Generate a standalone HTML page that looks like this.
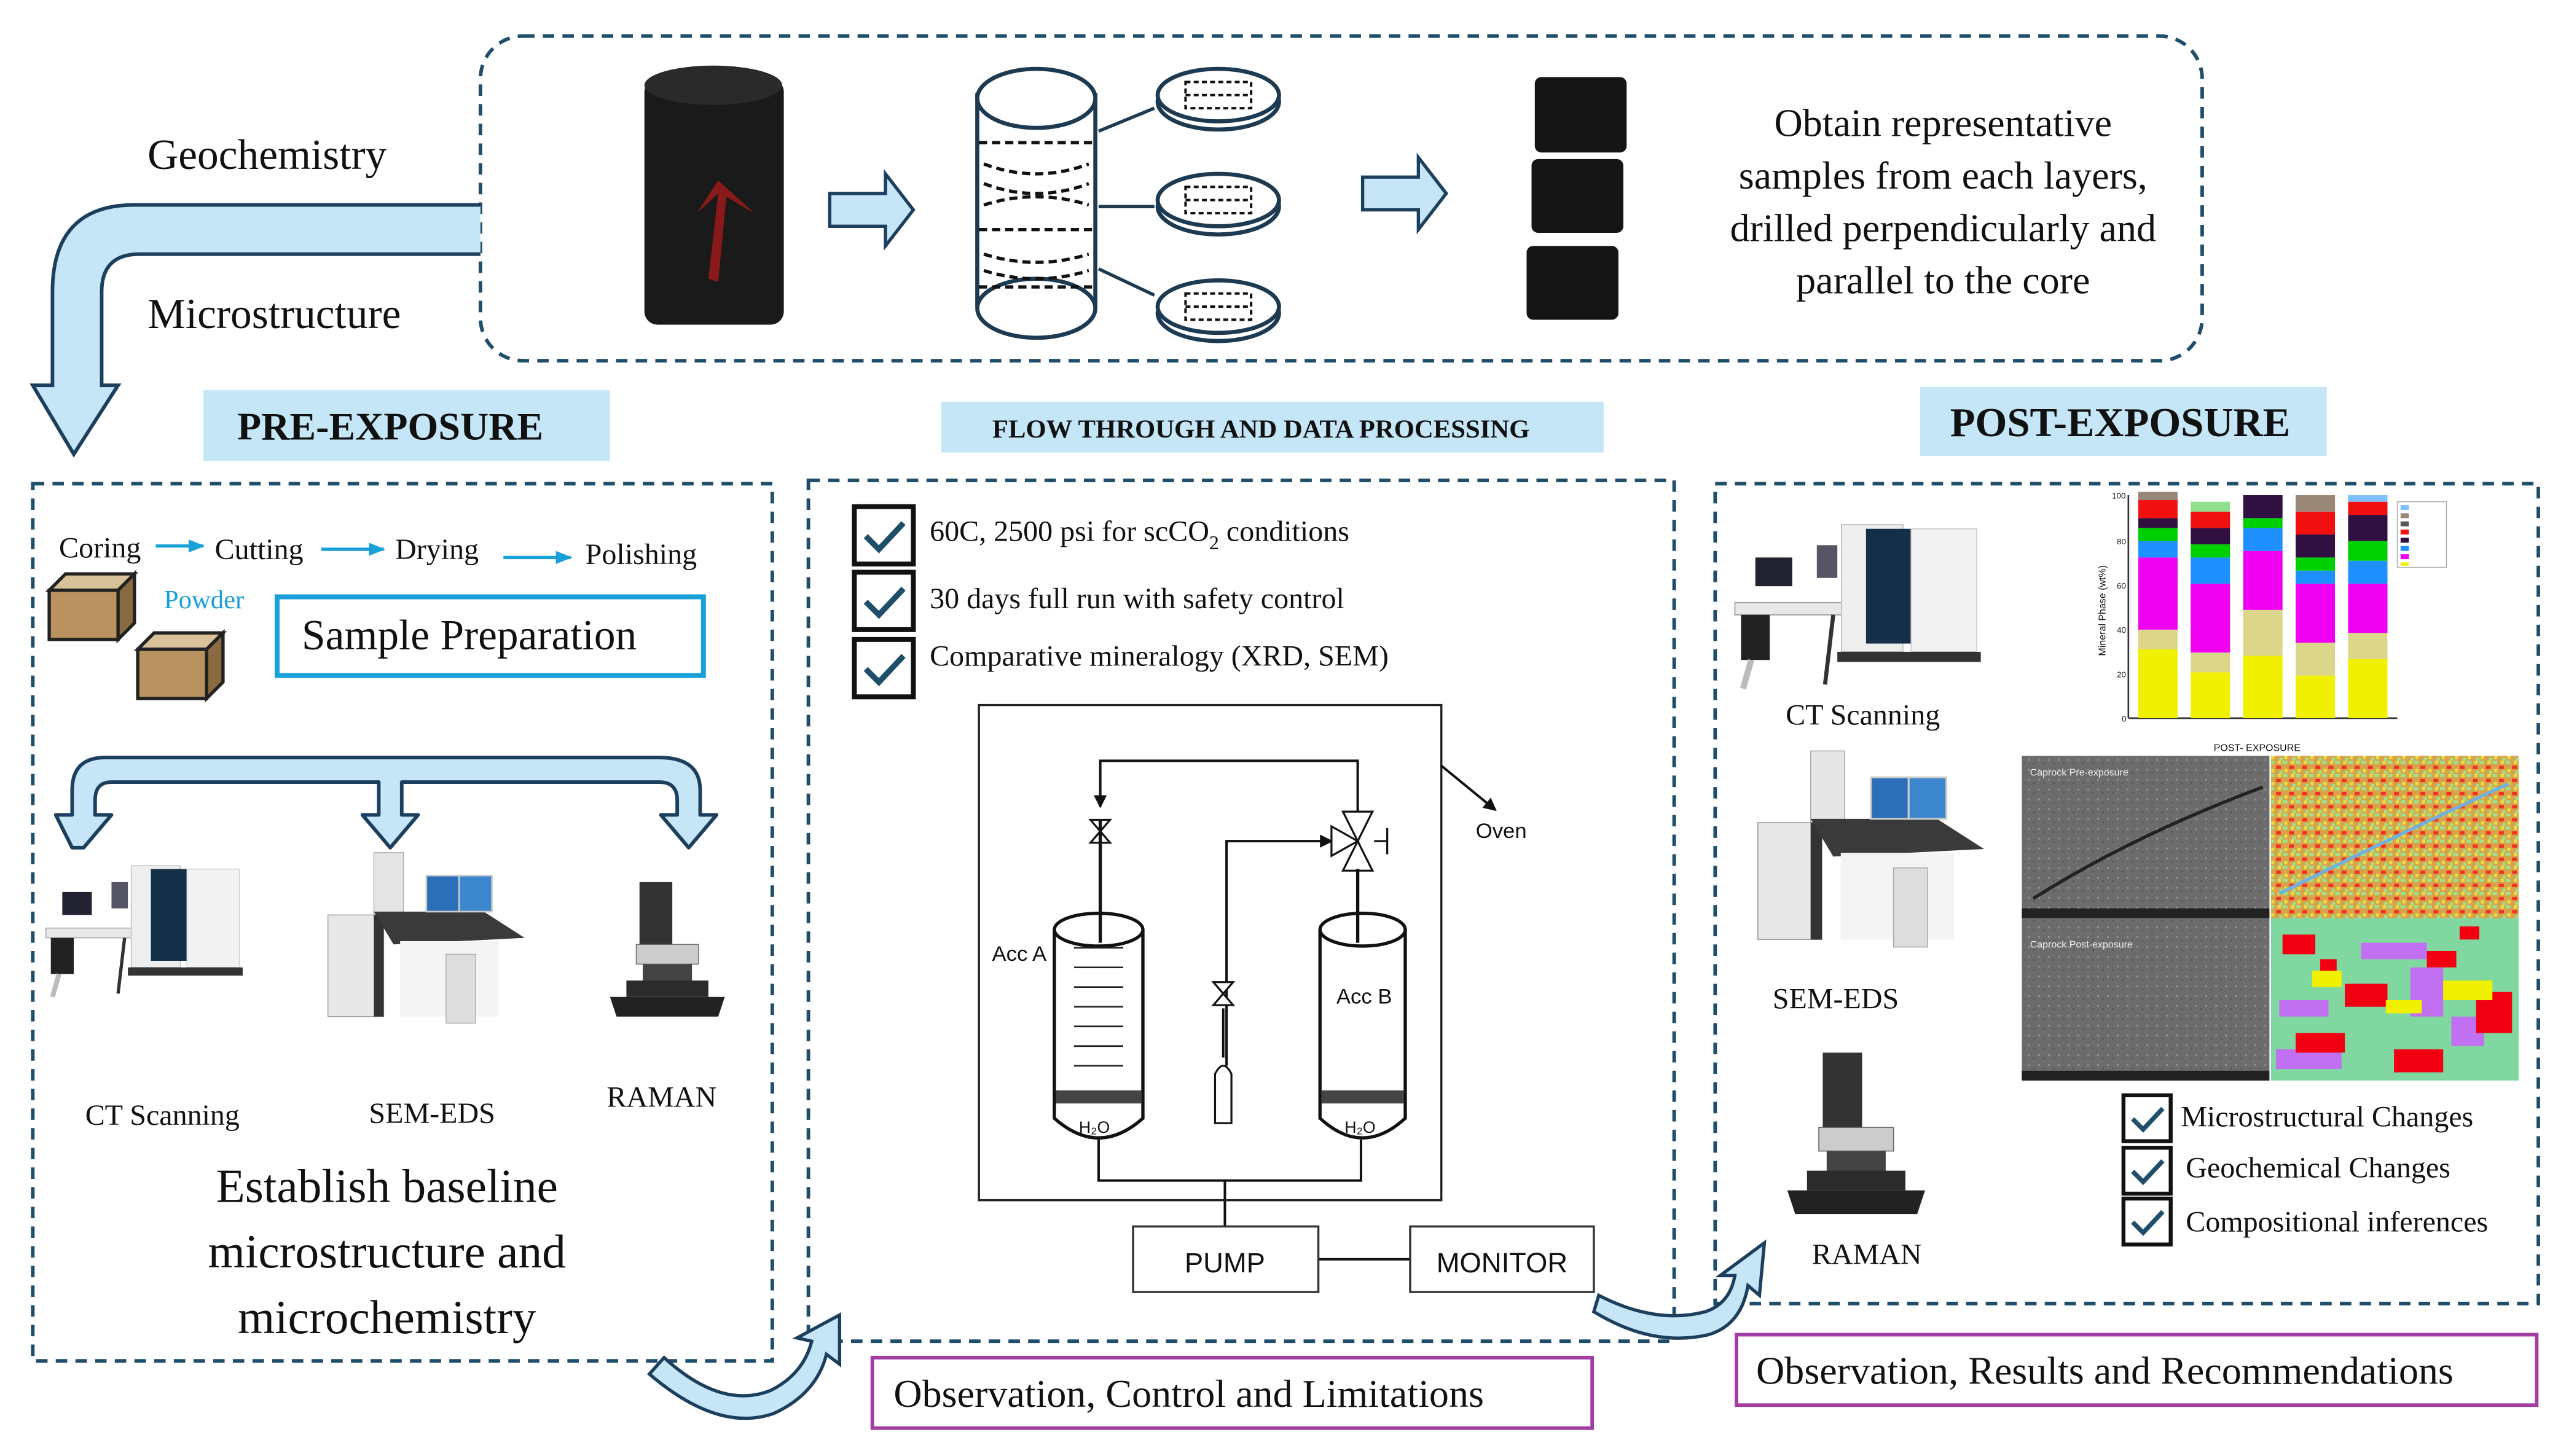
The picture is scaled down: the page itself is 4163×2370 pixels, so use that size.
<!DOCTYPE html>
<html><head><meta charset="utf-8"><style>
html,body{margin:0;padding:0;background:#fff;}
svg{display:block;}
text{font-family:"Liberation Serif",serif;fill:#111;}
.s{font-family:"Liberation Sans",sans-serif;}
</style></head><body>
<svg width="4163" height="2370" viewBox="0 0 1560 888" preserveAspectRatio="none" xmlns="http://www.w3.org/2000/svg">
<defs>
<pattern id="spk" width="8" height="8" patternUnits="userSpaceOnUse">
<rect width="8" height="8" fill="#d9a24a"/>
<rect x="0" y="0" width="3" height="2" fill="#9fe08a"/><rect x="4" y="3" width="3" height="2" fill="#f03020"/><rect x="1" y="5" width="2" height="2" fill="#e8e040"/><rect x="5" y="0" width="2" height="2" fill="#e8e040"/><rect x="6" y="6" width="2" height="2" fill="#9fe08a"/>
</pattern>
<pattern id="gry" width="6" height="6" patternUnits="userSpaceOnUse">
<rect width="6" height="6" fill="#6c6c6c"/><rect x="1" y="1" width="1" height="1" fill="#999"/><rect x="4" y="3" width="1" height="1" fill="#555"/>
</pattern>
<marker id="ar" markerWidth="8" markerHeight="8" refX="7" refY="4" orient="auto" markerUnits="userSpaceOnUse"><path d="M0,0 L8,4 L0,8 Z" fill="#111"/></marker>
<marker id="ab" markerWidth="10" markerHeight="10" refX="9" refY="5" orient="auto" markerUnits="userSpaceOnUse"><path d="M0,1 L10,5 L0,9 Z" fill="#1aa0d8"/></marker>
<g id="ct">
 <rect x="0" y="38" width="58" height="6" fill="#e8e8e8" stroke="#999" stroke-width=".5"/>
 <rect x="3" y="44" width="14" height="22" fill="#222"/>
 <line x1="48" y1="44" x2="44" y2="78" stroke="#333" stroke-width="2"/>
 <line x1="8" y1="66" x2="4" y2="80" stroke="#bbb" stroke-width="3"/>
 <rect x="10" y="16" width="18" height="14" fill="#223"/>
 <rect x="40" y="10" width="10" height="16" fill="#556"/>
 <rect x="52" y="0" width="30" height="62" fill="#eee" stroke="#bbb" stroke-width=".5"/>
 <rect x="64" y="2" width="22" height="56" fill="#143048"/>
 <rect x="86" y="2" width="32" height="60" fill="#f2f2f2" stroke="#ccc" stroke-width=".5"/>
 <rect x="50" y="62" width="70" height="5" fill="#333"/>
</g>
<g id="sem">
 <rect x="28" y="0" width="18" height="42" fill="#e5e5e5" stroke="#aaa" stroke-width=".5"/>
 <rect x="0" y="38" width="34" height="62" fill="#e8e8e8" stroke="#999" stroke-width=".5"/>
 <rect x="28" y="38" width="6" height="62" fill="#333"/>
 <path d="M28,36 L95,36 L120,52 L40,56 Z" fill="#3a3a3a"/>
 <rect x="60" y="14" width="20" height="22" fill="#2a6fb8" stroke="#ccc"/>
 <rect x="80" y="14" width="20" height="22" fill="#3b86cc" stroke="#ccc"/>
 <rect x="44" y="54" width="60" height="46" fill="#f4f4f4"/>
 <rect x="72" y="62" width="18" height="42" fill="#ddd" stroke="#aaa" stroke-width=".5"/>
</g>
<g id="raman">
 <rect x="18" y="0" width="20" height="40" fill="#333"/>
 <rect x="16" y="38" width="38" height="12" fill="#ccc" stroke="#666" stroke-width=".5"/>
 <rect x="20" y="50" width="30" height="12" fill="#444"/>
 <path d="M0,70 L70,70 L66,82 L4,82 Z" fill="#222"/>
 <rect x="10" y="60" width="50" height="10" fill="#2b2b2b"/>
</g>
<g id="chk">
 <rect x="0" y="0" width="36" height="35" fill="#fff" stroke="#111" stroke-width="3"/>
 <path d="M7,18 L15,26 L30,10" fill="none" stroke="#1f4e6b" stroke-width="3.5"/>
</g>
<g id="cube">
 <path d="M0,10 L10,0 L52,0 L42,10 Z" fill="#d8c29a" stroke="#222" stroke-width="2"/>
 <rect x="0" y="10" width="42" height="30" fill="#b8925f" stroke="#222" stroke-width="2"/>
 <path d="M42,10 L52,0 L52,30 L42,40 Z" fill="#8a6a40" stroke="#222" stroke-width="2"/>
</g>
<g id="disc">
 <ellipse cx="0" cy="4" rx="37" ry="17" fill="#fff" stroke="#1c3a52" stroke-width="2.5"/>
 <ellipse cx="0" cy="0" rx="37" ry="16" fill="#fff" stroke="#1c3a52" stroke-width="2.5"/>
 <rect x="-20" y="-8" width="40" height="16" fill="none" stroke="#111" stroke-width="1.5" stroke-dasharray="3 2"/>
 <line x1="-20" y1="0" x2="20" y2="0" stroke="#111" stroke-width="1.5" stroke-dasharray="3 2"/>
</g>
</defs>

<rect x="293" y="22" width="1050" height="198" rx="26" fill="none" stroke="#1f4e6b" stroke-width="2.2" stroke-dasharray="7 5"/>
<text x="90" y="103" font-size="26">Geochemistry</text>
<text x="90" y="200" font-size="26">Microstructure</text>
<path d="M293,125 L82,125 Q32,125 32,178 L32,235 L20,235 L45,277 L72,235 L62,235 L62,178 Q62,155 85,155 L293,155" fill="#c6e6f7" stroke="#1c3f5e" stroke-width="2.2"/>

<rect x="393" y="48" width="85" height="150" rx="8" fill="#1a1a1a"/>
<ellipse cx="435" cy="52" rx="42" ry="12" fill="#2a2a2a"/>
<path d="M432,170 L438,118 L425,130 L438,110 L460,130 L443,120 L438,172 Z" fill="#8a1a1a"/>
<path d="M506,118 L540,118 L540,106 L557,128 L540,150 L540,138 L506,138 Z" fill="#c6e6f7" stroke="#1c3f5e" stroke-width="2"/>
<rect x="596" y="58" width="72" height="128" fill="#fff" stroke="#1c3a52" stroke-width="2.5"/>
<ellipse cx="632" cy="60" rx="36" ry="18" fill="#fff" stroke="#1c3a52" stroke-width="2.5"/>
<ellipse cx="632" cy="188" rx="36" ry="18" fill="#fff" stroke="#1c3a52" stroke-width="2.5"/>
<g stroke="#111" stroke-width="2" stroke-dasharray="5 3" fill="none">
<line x1="597" y1="87" x2="667" y2="87"/><line x1="597" y1="140" x2="667" y2="140"/><line x1="597" y1="175" x2="667" y2="175"/>
<path d="M600,100 Q632,112 664,100"/><path d="M600,112 Q632,124 664,112"/><path d="M600,125 Q632,115 664,125"/><path d="M600,155 Q632,165 664,155"/><path d="M600,165 Q632,175 664,165"/>
</g>
<g stroke="#1c3a52" stroke-width="2"><line x1="670" y1="80" x2="704" y2="66"/><line x1="670" y1="126" x2="704" y2="126"/><line x1="670" y1="164" x2="704" y2="180"/></g>
<use href="#disc" x="743" y="58"/><use href="#disc" x="743" y="122"/><use href="#disc" x="743" y="187"/>
<path d="M831,108 L865,108 L865,96 L882,118 L865,140 L865,128 L831,128 Z" fill="#c6e6f7" stroke="#1c3f5e" stroke-width="2"/>
<rect x="936" y="47" width="56" height="46" rx="4" fill="#151515"/>
<rect x="934" y="97" width="56" height="45" rx="4" fill="#151515"/>
<rect x="931" y="150" width="56" height="45" rx="4" fill="#151515"/>
<g font-size="24" text-anchor="middle">
<text x="1185" y="83">Obtain representative</text>
<text x="1185" y="115">samples from each layers,</text>
<text x="1185" y="147">drilled perpendicularly and</text>
<text x="1185" y="179">parallel to the core</text>
</g>

<rect x="124" y="238" width="248" height="43" fill="#c5e6f7"/>
<text x="238" y="268" font-size="24" font-weight="bold" text-anchor="middle">PRE-EXPOSURE</text>
<rect x="574" y="245" width="404" height="31" fill="#c5e6f7"/>
<text x="769" y="267" font-size="16" font-weight="bold" text-anchor="middle">FLOW THROUGH AND DATA PROCESSING</text>
<rect x="1171" y="236" width="248" height="42" fill="#c5e6f7"/>
<text x="1293" y="266" font-size="25" font-weight="bold" text-anchor="middle">POST-EXPOSURE</text>

<g fill="none" stroke="#1f4e6b" stroke-width="2.2" stroke-dasharray="7 5">
<rect x="20" y="295" width="451" height="535"/>
<rect x="493" y="293" width="528" height="525"/>
<rect x="1046" y="295" width="502" height="500"/>
</g>

<g font-size="18">
<text x="36" y="340">Coring</text><text x="131" y="341">Cutting</text><text x="241" y="341">Drying</text><text x="357" y="344">Polishing</text>
</g>
<g stroke="#1aa0d8" stroke-width="2" marker-end="url(#ab)">
<line x1="95" y1="333" x2="124" y2="333"/><line x1="196" y1="335" x2="234" y2="335"/><line x1="307" y1="340" x2="348" y2="340"/>
</g>
<use href="#cube" x="30" y="350"/><use href="#cube" x="84" y="386"/>
<text x="100" y="371" font-size="16" style="fill:#1aa0d8">Powder</text>
<rect x="169" y="364" width="260" height="48" fill="#fff" stroke="#1aa0d8" stroke-width="3"/>
<text x="184" y="396" font-size="26">Sample Preparation</text>
<path d="M44,517 L34,497 L44,497 L44,482 Q44,462 64,462 L232,462 L232,462 L245,462 L402,462 Q427,462 427,482 L427,497 L437,497 L420,517 L403,497 L413,497 L413,488 Q413,477 402,477 L245,477 L245,497 L255,497 L238,517 L221,497 L231,497 L231,477 L68,477 Q58,477 58,488 L58,497 L68,497 L51,517 Z" fill="#c6e6f7" stroke="#1c3f5e" stroke-width="2.2" stroke-linejoin="round"/>
<use href="#ct" x="28" y="528"/>
<use href="#sem" x="200" y="520"/>
<use href="#raman" x="372" y="538"/>
<g font-size="18"><text x="52" y="686">CT Scanning</text><text x="225" y="685">SEM-EDS</text><text x="370" y="675">RAMAN</text></g>
<g font-size="29" text-anchor="middle"><text x="236" y="733">Establish baseline</text><text x="236" y="773">microstructure and</text><text x="236" y="813">microchemistry</text></g>

<use href="#chk" x="521" y="309"/><use href="#chk" x="521" y="349"/><use href="#chk" x="521" y="390"/>
<g font-size="18"><text x="567" y="330">60C, 2500 psi for scCO<tspan font-size="12" dy="5">2</tspan><tspan dy="-5"> conditions</tspan></text>
<text x="567" y="371">30 days full run with safety control</text>
<text x="567" y="406">Comparative mineralogy (XRD, SEM)</text></g>
<rect x="597" y="430" width="282" height="302" fill="none" stroke="#222" stroke-width="1.3"/>
<g stroke="#111" stroke-width="1.5" fill="none">
<polyline points="828,500 828,464 671,464 671,492" marker-end="url(#ar)"/>
<polyline points="748,650 748,513 812,513" marker-end="url(#ar)"/>
<line x1="671" y1="515" x2="671" y2="565"/>
<line x1="828" y1="530" x2="828" y2="565"/>
<line x1="746" y1="615" x2="746" y2="645"/>
<polyline points="670,695 670,720 830,720 830,695"/>
<line x1="747" y1="720" x2="747" y2="748"/>
<line x1="804" y1="768" x2="860" y2="768"/>
<line x1="879" y1="467" x2="912" y2="494" marker-end="url(#ar)"/>
</g>
<g fill="#fff" stroke="#111" stroke-width="1.2">
<path d="M665,500 L677,500 L671,507 Z M665,514 L677,514 L671,507 Z"/>
<path d="M819,495 L837,495 L828,513 Z M819,531 L837,531 L828,513 Z M812,504 L812,522 L828,513 Z"/>
<line x1="838" y1="513" x2="846" y2="513"/><line x1="846" y1="505" x2="846" y2="521"/>
<path d="M740,599 L752,599 L746,606 Z M740,613 L752,613 L746,606 Z"/>
<path d="M741,685 L741,655 Q746,645 751,655 L751,685 Z"/>
</g>
<g stroke="#111" stroke-width="2" fill="#fff">
<path d="M643,567 L643,682 Q670,706 697,682 L697,567"/>
<ellipse cx="670" cy="567" rx="27" ry="10"/>
<path d="M805,567 L805,682 Q831,706 857,682 L857,567"/>
<ellipse cx="831" cy="567" rx="26" ry="10"/>
</g>
<g stroke="#222" stroke-width="1"><line x1="655" y1="578" x2="685" y2="578"/><line x1="655" y1="590" x2="685" y2="590"/><line x1="655" y1="602" x2="685" y2="602"/><line x1="655" y1="614" x2="685" y2="614"/><line x1="655" y1="626" x2="685" y2="626"/><line x1="655" y1="638" x2="685" y2="638"/><line x1="655" y1="650" x2="685" y2="650"/></g>
<rect x="644" y="665" width="52" height="8" fill="#444"/><rect x="806" y="665" width="50" height="8" fill="#444"/>
<line x1="671" y1="500" x2="671" y2="575" stroke="#111" stroke-width="2"/>
<line x1="828" y1="530" x2="828" y2="575" stroke="#111" stroke-width="2"/>
<g class="s" font-size="13"><text class="s" x="605" y="586">Acc A</text><text class="s" x="815" y="612">Acc B</text><text class="s" x="658" y="691" font-size="10">H₂O</text><text class="s" x="820" y="691" font-size="10">H₂O</text><text class="s" x="900" y="511">Oven</text></g>
<rect x="691" y="748" width="113" height="40" fill="#fff" stroke="#333" stroke-width="1.3"/>
<rect x="860" y="748" width="112" height="40" fill="#fff" stroke="#333" stroke-width="1.3"/>
<text class="s" x="747" y="776" font-size="17" text-anchor="middle">PUMP</text>
<text class="s" x="916" y="776" font-size="17" text-anchor="middle">MONITOR</text>

<path d="M405,828 Q440,860 470,848 Q490,838 495,818 L486,816 L512,802 L512,832 L504,826 Q498,850 472,862 Q438,874 396,838 Z" fill="#c6e6f7" stroke="#1c3f5e" stroke-width="2"/>
<path d="M975,790 Q1010,808 1040,800 Q1055,795 1058,778 L1049,778 L1076,758 L1073,790 L1066,784 Q1062,808 1042,814 Q1008,822 972,800 Z" fill="#c6e6f7" stroke="#1c3f5e" stroke-width="2"/>

<rect x="532" y="828" width="439" height="43" fill="#fff" stroke="#a23ea2" stroke-width="2.2"/>
<text x="545" y="858" font-size="24">Observation, Control and Limitations</text>
<rect x="1059" y="814" width="488" height="43" fill="#fff" stroke="#a23ea2" stroke-width="2.2"/>
<text x="1071" y="844" font-size="24">Observation, Results and Recommendations</text>

<g transform="translate(1058,320) scale(1.25)"><use href="#ct"/></g>
<text x="1089" y="442" font-size="18">CT Scanning</text>
<g transform="translate(1072,458) scale(1.15)"><use href="#sem"/></g>
<text x="1081" y="615" font-size="18">SEM-EDS</text>
<g transform="translate(1090,642) scale(1.2)"><use href="#raman"/></g>
<text x="1105" y="771" font-size="18">RAMAN</text>
<line x1="1298" y1="302" x2="1298" y2="438" stroke="#333" stroke-width="1"/>
<line x1="1298" y1="438" x2="1462" y2="438" stroke="#333" stroke-width="1"/>
<g class="s" font-size="5"><text class="s" x="1288" y="304">100</text><text class="s" x="1291" y="332">80</text><text class="s" x="1291" y="359">60</text><text class="s" x="1291" y="386">40</text><text class="s" x="1291" y="413">20</text><text class="s" x="1294" y="440">0</text>
<text class="s" x="1350" y="458" font-size="6">POST- EXPOSURE</text></g>
<text class="s" x="1284" y="400" font-size="6" transform="rotate(-90 1284 400)">Mineral Phase (wt%)</text>
<g>
<rect x="1304" y="396" width="24" height="42" fill="#f0f000"/><rect x="1304" y="384" width="24" height="12" fill="#dcd68a"/><rect x="1304" y="340" width="24" height="44" fill="#f000f0"/><rect x="1304" y="330" width="24" height="10" fill="#1e90ff"/><rect x="1304" y="322" width="24" height="8" fill="#00d000"/><rect x="1304" y="316" width="24" height="6" fill="#301040"/><rect x="1304" y="305" width="24" height="11" fill="#f01010"/><rect x="1304" y="300" width="24" height="5" fill="#998877"/>
<rect x="1336" y="410" width="24" height="28" fill="#f0f000"/><rect x="1336" y="398" width="24" height="12" fill="#dcd68a"/><rect x="1336" y="356" width="24" height="42" fill="#f000f0"/><rect x="1336" y="340" width="24" height="16" fill="#1e90ff"/><rect x="1336" y="332" width="24" height="8" fill="#00d000"/><rect x="1336" y="322" width="24" height="10" fill="#301040"/><rect x="1336" y="312" width="24" height="10" fill="#f01010"/><rect x="1336" y="306" width="24" height="6" fill="#90e090"/>
<rect x="1368" y="400" width="24" height="38" fill="#f0f000"/><rect x="1368" y="372" width="24" height="28" fill="#dcd68a"/><rect x="1368" y="336" width="24" height="36" fill="#f000f0"/><rect x="1368" y="322" width="24" height="14" fill="#1e90ff"/><rect x="1368" y="316" width="24" height="6" fill="#00d000"/><rect x="1368" y="302" width="24" height="14" fill="#301040"/>
<rect x="1400" y="412" width="24" height="26" fill="#f0f000"/><rect x="1400" y="392" width="24" height="20" fill="#dcd68a"/><rect x="1400" y="356" width="24" height="36" fill="#f000f0"/><rect x="1400" y="348" width="24" height="8" fill="#1e90ff"/><rect x="1400" y="340" width="24" height="8" fill="#00d000"/><rect x="1400" y="326" width="24" height="14" fill="#301040"/><rect x="1400" y="312" width="24" height="14" fill="#f01010"/><rect x="1400" y="302" width="24" height="10" fill="#998877"/>
<rect x="1432" y="402" width="24" height="36" fill="#f0f000"/><rect x="1432" y="386" width="24" height="16" fill="#dcd68a"/><rect x="1432" y="356" width="24" height="30" fill="#f000f0"/><rect x="1432" y="342" width="24" height="14" fill="#1e90ff"/><rect x="1432" y="330" width="24" height="12" fill="#00d000"/><rect x="1432" y="314" width="24" height="16" fill="#301040"/><rect x="1432" y="306" width="24" height="8" fill="#f01010"/><rect x="1432" y="302" width="24" height="4" fill="#80c0ff"/>
</g>
<rect x="1462" y="306" width="30" height="40" fill="#fff" stroke="#aaa" stroke-width=".5"/>
<g><rect x="1464" y="308" width="5" height="3" fill="#80c0ff"/><rect x="1464" y="313" width="5" height="3" fill="#998877"/><rect x="1464" y="318" width="5" height="3" fill="#555"/><rect x="1464" y="323" width="5" height="3" fill="#f01010"/><rect x="1464" y="328" width="5" height="3" fill="#301040"/><rect x="1464" y="333" width="5" height="3" fill="#1e90ff"/><rect x="1464" y="338" width="5" height="3" fill="#f000f0"/><rect x="1464" y="343" width="5" height="2" fill="#f0f000"/></g>
<rect x="1233" y="461" width="151" height="99" fill="url(#gry)"/>
<path d="M1240,548 Q1300,510 1380,480" stroke="#222" stroke-width="2" fill="none"/>
<rect x="1233" y="554" width="151" height="6" fill="#222"/>
<rect x="1233" y="560" width="151" height="99" fill="url(#gry)"/>
<rect x="1233" y="653" width="151" height="6" fill="#222"/>
<rect x="1385" y="461" width="151" height="99" fill="url(#spk)"/>
<path d="M1390,545 Q1460,510 1530,478" stroke="#6fb0e0" stroke-width="2" fill="none"/>
<rect x="1385" y="560" width="151" height="99" fill="#80d8a0"/>
<g fill="#c070f0"><rect x="1440" y="575" width="40" height="10"/><rect x="1390" y="610" width="30" height="10"/><rect x="1495" y="620" width="20" height="18"/><rect x="1388" y="640" width="40" height="12"/><rect x="1470" y="590" width="20" height="30"/></g>
<g fill="#f00010"><rect x="1392" y="570" width="20" height="12"/><rect x="1430" y="600" width="26" height="14"/><rect x="1510" y="605" width="22" height="25"/><rect x="1400" y="630" width="30" height="12"/><rect x="1460" y="640" width="30" height="14"/><rect x="1480" y="580" width="18" height="10"/><rect x="1415" y="585" width="10" height="8"/><rect x="1500" y="565" width="12" height="8"/></g>
<g fill="#f0f000"><rect x="1410" y="592" width="18" height="10"/><rect x="1490" y="598" width="30" height="12"/><rect x="1455" y="610" width="22" height="8"/></g>
<text class="s" x="1238" y="473" font-size="6" style="fill:#eee">Caprock  Pre-exposure</text>
<text class="s" x="1238" y="578" font-size="6" style="fill:#eee">Caprock  Post-exposure</text>
<g transform="translate(1295,668) scale(0.8)"><use href="#chk"/></g>
<g transform="translate(1295,700) scale(0.8)"><use href="#chk"/></g>
<g transform="translate(1295,731) scale(0.8)"><use href="#chk"/></g>
<g font-size="18"><text x="1330" y="687">Microstructural Changes</text><text x="1333" y="718">Geochemical Changes</text><text x="1333" y="751">Compositional inferences</text></g>
</svg>
</body></html>
